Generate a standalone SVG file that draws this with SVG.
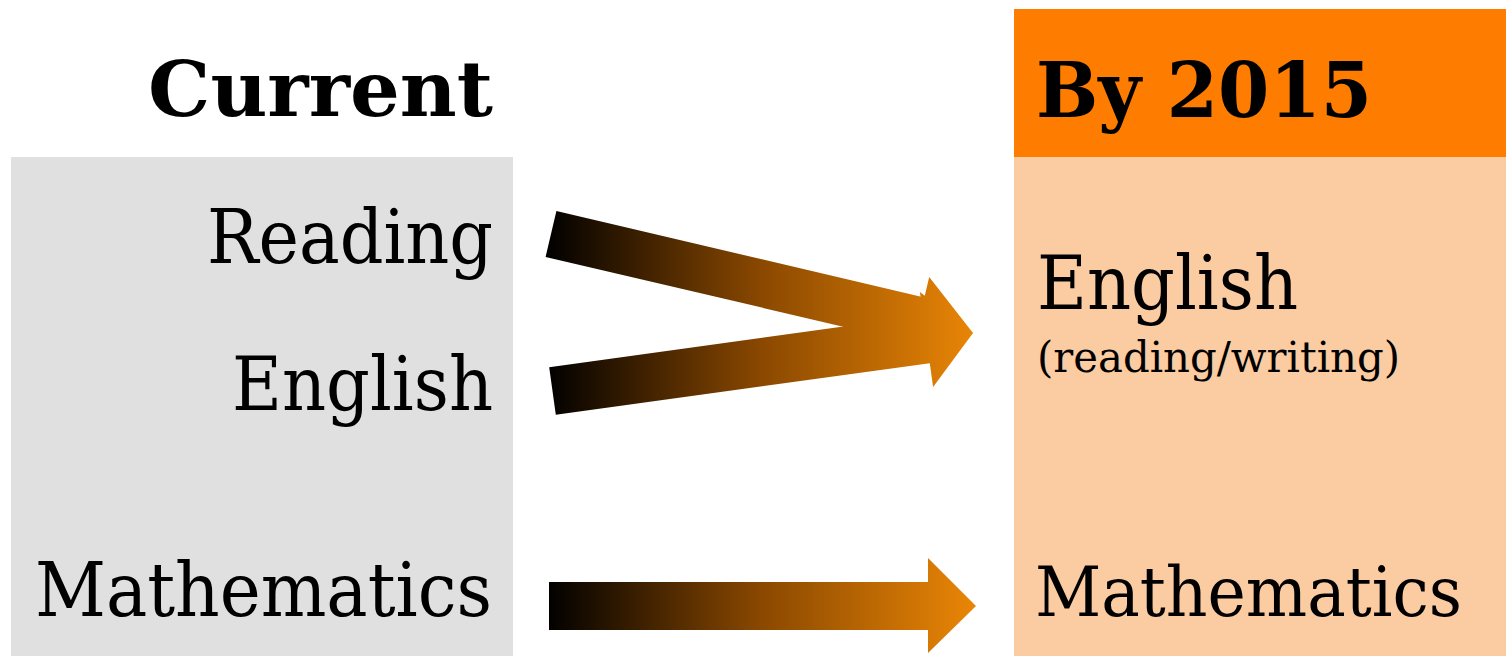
<svg xmlns="http://www.w3.org/2000/svg" width="1506" height="656" viewBox="0 0 1506 656">
  <defs>
    <linearGradient id="arrowGrad" gradientUnits="userSpaceOnUse" x1="546" y1="0" x2="976" y2="0">
      <stop offset="0" stop-color="#000000"/>
      <stop offset="0.5" stop-color="#8A4800"/>
      <stop offset="1" stop-color="#EA8606"/>
    </linearGradient>
  </defs>
  <style>
    .t { font-family: "DejaVu Serif", "Liberation Serif", serif; fill: #000; }
    .big { font-size: 74px; }
    .head { font-size: 77px; font-weight: bold; }
    .small { font-size: 42px; }
    .arrow { fill: url(#arrowGrad); }
  </style>
  <rect width="1506" height="656" fill="#FFFFFF"/>
  <g id="current">
    <rect x="11" y="157" width="502" height="499" fill="#E0E0E0"/>
    <text class="t head" x="493" y="116" text-anchor="end" textLength="345" lengthAdjust="spacingAndGlyphs">Current</text>
    <text class="t big" x="493" y="263" text-anchor="end" textLength="286" lengthAdjust="spacingAndGlyphs">Reading</text>
    <text class="t big" x="493" y="410" text-anchor="end" textLength="261" lengthAdjust="spacingAndGlyphs">English</text>
    <text class="t big" x="492" y="616" text-anchor="end" textLength="457" lengthAdjust="spacingAndGlyphs">Mathematics</text>
  </g>
  <g id="by2015">
    <rect x="1014" y="157" width="492" height="499" fill="#FBCBA2"/>
    <rect x="1014" y="9" width="492" height="148" fill="#FE7C00"/>
    <text class="t head" x="1036" y="117" textLength="336" lengthAdjust="spacingAndGlyphs">By 2015</text>
    <text class="t big" x="1037" y="309" textLength="261" lengthAdjust="spacingAndGlyphs">English</text>
    <text class="t small" x="1037" y="372" textLength="363" lengthAdjust="spacingAndGlyphs">(reading/writing)</text>
    <text class="t" font-size="70" x="1035" y="616" textLength="427" lengthAdjust="spacingAndGlyphs">Mathematics</text>
  </g>
  <g id="connectors">
    <polygon class="arrow" points="556.4,211.1 924.4,297.4 929.2,277 973,333 908.8,363.6 913.6,343.2 545.6,256.9"/>
    <polygon class="arrow" points="549.2,367.2 923.2,315.6 919.9,291.9 973,333 933.1,387 929.8,363.2 555.8,414.8"/>
    <polygon class="arrow" points="549,582 928,582 928,558 976,606 928,653 928,630 549,630"/>
  </g>
</svg>
